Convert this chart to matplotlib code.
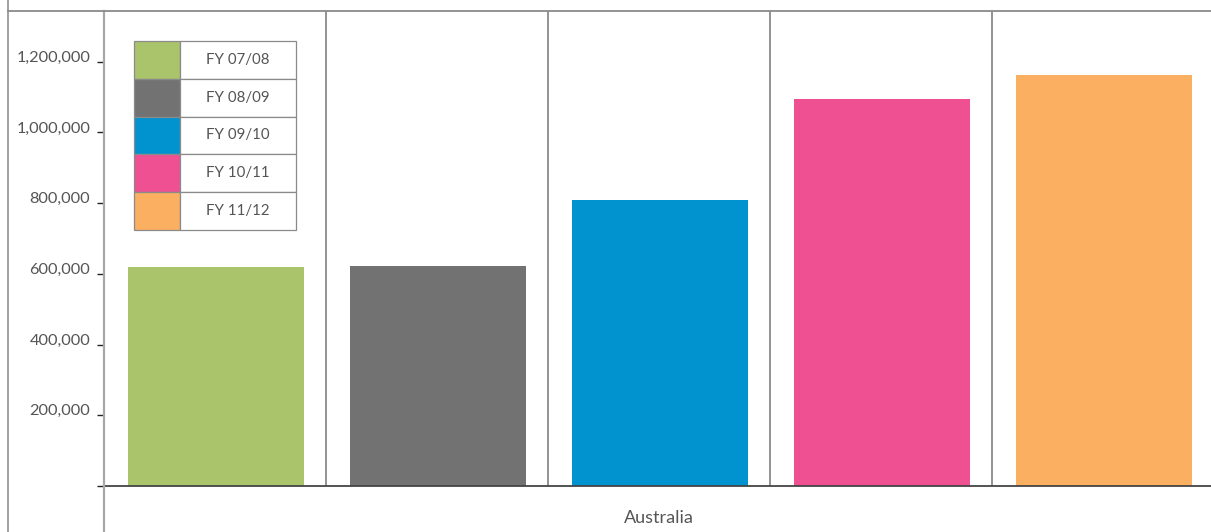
import matplotlib
matplotlib.use("Agg")
import matplotlib.pyplot as plt
from matplotlib.lines import Line2D
from matplotlib.patches import Rectangle

# ---- data ----
category = "Australia"
years = ["FY 07/08", "FY 08/09", "FY 09/10", "FY 10/11", "FY 11/12"]
values = [620000, 623000, 809000, 1095000, 1163000]
colors = ["#AAC46B", "#727272", "#0093D0", "#EE5092", "#FBAF61"]
yticks = [0, 200000, 400000, 600000, 800000, 1000000, 1200000]
ytick_labels = ["", "200,000", "400,000", "600,000", "800,000", "1,000,000", "1,200,000"]

W, H = 1211, 532
fig = plt.figure(figsize=(W / 100, H / 100), dpi=100)
plt.rcParams['font.family'] = ['Lato', 'DejaVu Sans']

def fx(px):
    return px / W

def fy(py):
    return 1 - py / H

ax = fig.add_axes([fx(104), fy(486), fx(1110), fy(11) - fy(486)])
txt = "#555555"

n = len(values)
xs = [i + 0.505 for i in range(n)]
ax.bar(xs, values, width=0.793, color=colors, zorder=2)
ax.set_xlim(0, n)
ax.set_ylim(0, 1343700)

for i in range(1, n):
    ax.axvline(i, color="#8a8a8a", lw=1.3, zorder=1)

ax.set_yticks(yticks)
ax.set_yticklabels(ytick_labels)
ax.tick_params(axis='y', length=5, width=1.0, pad=5, colors="#222222", labelcolor=txt, labelsize=11.8)
for lab in ax.get_yticklabels():
    lab.set_verticalalignment('baseline')
ax.set_xticks([])
ax.set_xlabel(category, color=txt, fontsize=13, labelpad=17)

for s in ["top", "right"]:
    ax.spines[s].set_visible(False)
ax.spines["left"].set_visible(False)
ax.spines["bottom"].set_color("#444444")
ax.spines["bottom"].set_linewidth(1.3)

# frame lines
fig.add_artist(Line2D([fx(104), fx(104)], [0, fy(11)], color="#a8a8a8", lw=1.6, transform=fig.transFigure))
fig.add_artist(Line2D([fx(7.5), fx(7.5)], [0, 1], color="#9a9a9a", lw=1.3, transform=fig.transFigure))
fig.add_artist(Line2D([fx(7.5), 1], [fy(11), fy(11)], color="#8a8a8a", lw=1.3, transform=fig.transFigure))

# legend as a table-like box
lx0, lx1, lsw = 134, 296, 180
ly0, ly1 = 41, 230
rh = (ly1 - ly0) / len(years)
for i, (yr, c) in enumerate(zip(years, colors)):
    top = ly0 + i * rh
    fig.add_artist(Rectangle((fx(lx0), fy(top + rh)), fx(lsw) - fx(lx0), fy(top) - fy(top + rh),
                             facecolor=c, edgecolor="#8a8a8a", lw=0.9, transform=fig.transFigure, zorder=5))
    fig.add_artist(Rectangle((fx(lsw), fy(top + rh)), fx(lx1) - fx(lsw), fy(top) - fy(top + rh),
                             facecolor="white", edgecolor="#8a8a8a", lw=0.9, transform=fig.transFigure, zorder=5))
    fig.text(fx((lsw + lx1) / 2), fy(top + rh / 2), yr, ha='center', va='center', fontsize=10.8,
             color=txt, zorder=6)

fig.savefig("out.png", dpi=100)
